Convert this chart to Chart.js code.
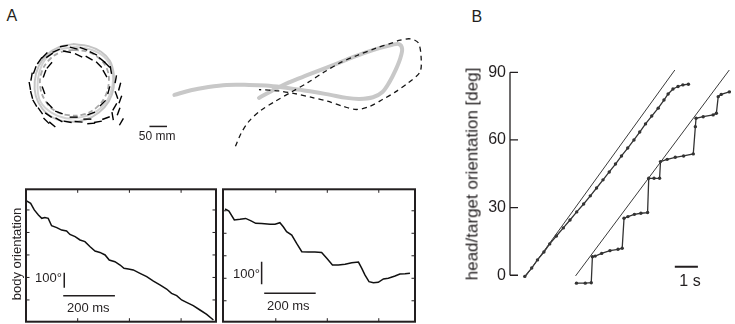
<!DOCTYPE html>
<html><head><meta charset="utf-8">
<script src="https://cdn.jsdelivr.net/npm/chart.js@4.4.1/dist/chart.umd.min.js"></script>
<style>
html,body{margin:0;padding:0;background:#fff;width:735px;height:324px;overflow:hidden;font-family:"Liberation Sans",Arial,Helvetica,sans-serif;color:#231f20}
canvas{position:absolute;display:block}
.t{position:absolute;white-space:nowrap;line-height:1}
</style></head><body>
<canvas id="cA" width="440" height="140" style="left:0;top:25px"></canvas>
<canvas id="cP1" width="204" height="144" style="left:16px;top:180px"></canvas>
<canvas id="cP2" width="198" height="144" style="left:220px;top:180px"></canvas>
<canvas id="cB" width="295" height="274" style="left:440px;top:40px"></canvas>

<div class="t" style="left:6.5px;top:8.2px;font-size:16px">A</div>
<div class="t" style="left:471.5px;top:9.2px;font-size:16px">B</div>
<div class="t" style="left:138.8px;top:129.8px;font-size:12px">50 mm</div>
<div class="t" style="left:15.5px;top:254px;font-size:13px;transform:translate(-50%,-50%) rotate(-90deg)">body orientation</div>
<div class="t" style="right:673px;top:270.7px;font-size:13px">100°</div>
<div class="t" style="left:88.3px;top:300.7px;font-size:13px;transform:translateX(-50%)">200 ms</div>
<div class="t" style="right:475px;top:267.3px;font-size:13px">100°</div>
<div class="t" style="left:288.3px;top:299px;font-size:13px;transform:translateX(-50%)">200 ms</div>
<div class="t" style="left:690px;top:273.2px;font-size:16px;transform:translateX(-50%)">1 s</div>
<div class="t" style="left:472px;top:173.5px;font-size:17px;transform:translate(-50%,-50%) rotate(-90deg)">head/target orientation [deg]</div>

<script>
// ---------- Panel A top: trajectories (mm) ----------
const loop1X = [136,181,217,242,253,253,239,211,172,128,83,50,31,28,39,64,97,136];
const loop1Y = [334,328,311,284,245,203,161,128,106,100,111,139,178,222,267,303,325,334];
const loop2X = [139,178,211,234,239,228,203,167,125,86,58,44,47,67,100,139];
const loop2Y = [317,311,292,259,217,175,142,122,120,133,164,203,247,284,309,317];
const loop3X = [145,189,225,247,250,236,206,161,117,75,44,36,42,61,97,145];
const loop3Y = [325,317,297,261,211,167,133,114,111,128,161,206,253,292,317,325];
const dashX = [111,139,167,195,220,234,120,153,183,89,70,211,228,245,259,270,261,272,256,267,250,275,231,208,189,178,153,122,97,78,61,67,44,28,19,14,19,28,42,56,70,56,53,70,97,139,189,222,239];
const dashY = [328,322,320,306,286,272,311,300,292,314,300,272,245,256,228,206,181,167,145,131,117,100,111,100,95,108,100,100,106,92,103,120,133,156,181,208,236,256,284,300,270,245,195,150,128,114,125,156,195];
const dashAngle = [-10,15,20,25,40,45,10,25,30,-25,-35,45,60,80,-80,-75,70,-70,-60,-70,80,-60,-20,-10,-5,0,5,10,30,40,45,35,55,60,75,80,-80,-70,-55,-45,-50,-70,70,45,20,0,-20,-45,-75];
const grayPathX = [426,473,519,575,639,686,732,778,825,871,917,954,992,1019,1038,1056,1070,1075,1066,1047,1010,964,917,862,806,751,714,667];
const grayPathY = [181,195,204,211,211,209,204,197,190,181,172,169,174,190,218,255,292,320,334,332,322,306,287,264,241,218,199,172];
const blackPathX = [600,616,639,672,714,760,806,853,899,945,1001,1047,1066,1098,1121,1129,1126,1093,1056,1019,982,945,908,862,815,769,723,667];
const blackPathY = [26,65,102,134,162,190,218,250,278,299,322,338,345,350,338,297,250,218,190,167,146,137,146,162,174,185,193,197];
const scaleBarAX = [355,405]; // 50 mm
const scaleBarAY = [86,86];

// ---------- Panel A bottom: body orientation ----------
const body1TimeMs = [2,18,32,48,61,73,86,99,119,138,157,170,190,209,228,248,267,286,306,322,344,364,379,396,415,441,467,493,518,544,563,583,602,621,647,673,699,725];
const body1Deg = [810,794,750,716,694,699,694,645,632,616,610,587,572,550,539,505,476,467,450,416,405,383,361,356,350,327,305,276,250,223,194,179,150,134,112,83,54,16];
const body1TicksX = [200,400,600];
const body1TicksY = [150,300,450,600,750];
const body1BarH = {x:[144,344], y:[178,178]};   // 200 ms
const body1BarV = {x:[148,148], y:[232,332]};   // 100 deg

const body2TimeMs = [3,18,39,61,83,104,122,145,178,197,216,229,242,262,281,301,326,352,378,398,420,443,469,495,521,534,546,562,579,598,618,637,663,682,702,721];
const body2Deg = [508,499,459,462,466,455,444,443,440,440,447,429,407,392,355,318,317,317,315,289,259,259,262,269,272,244,215,185,180,182,197,200,210,219,220,222];
const body2TicksX = [200,400,600];
const body2TicksY = [100,200,300,400,500];
const body2BarH = {x:[155,355], y:[133,133]};
const body2BarV = {x:[145,145], y:[173,273]};

// ---------- Panel B ----------
const bTicks = [0,30,60,90];
const target1TimeS = [0.64,7.14];
const target1Deg = [-1,91];
const target2TimeS = [2.84,9.5];
const target2Deg = [-0.3,91];
const head1TimeS = [0.64,0.94,1.19,1.47,1.72,2.01,2.31,2.60,2.89,3.19,3.48,3.75,4.03,4.30,4.57,4.83,5.10,5.37,5.62,5.87,6.14,6.42,6.67,6.85,7.06,7.28,7.49,7.73];
const head1Deg = [-0.5,3.2,6.8,10.3,13.9,17.4,21.0,24.5,28.1,31.6,35.2,38.7,42.3,45.8,49.3,52.9,56.4,60.0,63.5,67.1,70.6,74.1,77.7,80.4,82.6,83.7,84.4,84.7];
const head2TimeS = [2.88,3.26,3.52,3.57,3.69,3.97,4.33,4.68,4.86,4.94,5.11,5.39,5.67,5.96,6.01,6.24,6.48,6.52,6.81,7.16,7.52,7.94,8.03,8.06,8.37,8.80,8.94,9.02,9.15,9.50,9.72];
const head2Deg = [-3.5,-3.5,-3.3,8.2,8.5,9.7,10.9,11.5,12.0,25.3,26.0,27.0,27.5,27.8,43.0,43.0,43.0,50.4,51.4,52.3,52.9,53.8,65.9,69.6,70.3,71.1,71.8,79.2,80.2,81.3,81.9];
const scaleBarBX = [7.14,8.14]; // 1 s
const scaleBarBY = [3.8,3.8];

// ---------- setup ----------
const FONT = '"Liberation Sans", Arial, Helvetica, sans-serif';
const INK = '#231f20';
Chart.defaults.font.family = FONT;
Chart.defaults.color = INK;
Chart.defaults.animation = false;
Chart.defaults.plugins.legend.display = false;
Chart.defaults.plugins.tooltip.enabled = false;

function pts(xs, ys){ return xs.map((x,i)=>({x:x, y:ys[i]})); }

// Panel A top
new Chart(document.getElementById('cA'), {
  type:'scatter',
  data:{datasets:[
    {data:pts(dashX,dashY), showLine:false, pointStyle:'line', pointRadius:4, pointRotation:dashAngle,
     borderColor:'#000', pointBorderColor:'#000', pointBorderWidth:1.4, order:0, clip:false},
    {data:pts(blackPathX,blackPathY), showLine:true, borderColor:'#151515', borderWidth:1.3, borderDash:[5,4],
     pointRadius:0, tension:0.3, order:1, clip:false},
    {data:pts(scaleBarAX,scaleBarAY), showLine:true, borderColor:INK, borderWidth:1.5, pointRadius:0, order:1, clip:false},
    {data:pts(grayPathX,grayPathY), showLine:true, borderColor:'#c8c8c8', borderWidth:4, pointRadius:0,
     tension:0.35, order:2, borderCapStyle:'round', borderJoinStyle:'round', clip:false},
    {data:pts(loop1X,loop1Y), showLine:true, borderColor:'#c4c4c4', borderWidth:2, pointRadius:0, tension:0.4, order:3, clip:false},
    {data:pts(loop2X,loop2Y), showLine:true, borderColor:'#a8a8a8', borderWidth:1.8, borderDash:[5,3], pointRadius:0, tension:0.4, order:3, clip:false},
    {data:pts(loop3X,loop3Y), showLine:true, borderColor:'#d2d2d2', borderWidth:2, pointRadius:0, tension:0.4, order:4, clip:false}
  ]},
  options:{responsive:false, layout:{padding:0},
    scales:{x:{type:'linear', display:false, min:-55.6, max:1167.6},
            y:{type:'linear', display:false, min:-13.9, max:375.3}}}
});

// Box plugin for bottom panels
function boxPlugin(xt, yt){
  return {id:'box', afterDraw(chart){
    const {ctx, chartArea:a, scales:{x, y}} = chart;
    ctx.save();
    ctx.strokeStyle = INK; ctx.lineWidth = 1;
    ctx.beginPath();
    xt.forEach(v=>{const p=x.getPixelForValue(v); ctx.moveTo(p,a.top); ctx.lineTo(p,a.top+3.5); ctx.moveTo(p,a.bottom); ctx.lineTo(p,a.bottom-3.5);});
    yt.forEach(v=>{const p=y.getPixelForValue(v); ctx.moveTo(a.left,p); ctx.lineTo(a.left+3.5,p); ctx.moveTo(a.right,p); ctx.lineTo(a.right-3.5,p);});
    ctx.stroke();
    ctx.lineWidth = 2;
    ctx.strokeRect(a.left, a.top, a.right-a.left, a.bottom-a.top);
    ctx.restore();
  }};
}

function bodyPanel(id, tx, dy, barH, barV, xt, yt, xr, yr, pad){
  new Chart(document.getElementById(id), {
    type:'scatter',
    data:{datasets:[
      {data:pts(tx,dy), showLine:true, borderColor:'#111', borderWidth:1.5, pointRadius:0},
      {data:pts(barH.x,barH.y), showLine:true, borderColor:INK, borderWidth:1.5, pointRadius:0},
      {data:pts(barV.x,barV.y), showLine:true, borderColor:INK, borderWidth:1.5, pointRadius:0}
    ]},
    options:{responsive:false, layout:{padding:pad},
      scales:{x:{type:'linear', display:false, min:xr[0], max:xr[1]},
              y:{type:'linear', display:false, min:yr[0], max:yr[1]}}},
    plugins:[boxPlugin(xt, yt)]
  });
}
bodyPanel('cP1', body1TimeMs, body1Deg, body1BarH, body1BarV, body1TicksX, body1TicksY, [0,735], [5,887.7], {left:10,top:9.3,right:4,bottom:2.3});
bodyPanel('cP2', body2TimeMs, body2Deg, body2BarH, body2BarV, body2TicksX, body2TicksY, [-5,740.6], [7,595.4], {left:3,top:9.3,right:3,bottom:2.3});

// Panel B
const spinePlugin = {id:'spine', afterDraw(chart){
  const {ctx, chartArea:a, scales:{y}} = chart;
  const x0 = a.left;
  ctx.save();
  ctx.strokeStyle = INK; ctx.lineWidth = 1.3;
  ctx.beginPath();
  ctx.moveTo(x0, y.getPixelForValue(bTicks[0]));
  ctx.lineTo(x0, y.getPixelForValue(bTicks[bTicks.length-1]));
  bTicks.forEach(v=>{const p=y.getPixelForValue(v); ctx.moveTo(x0,p); ctx.lineTo(x0+8,p);});
  ctx.stroke();
  ctx.restore();
}};

new Chart(document.getElementById('cB'), {
  type:'scatter',
  data:{datasets:[
    {data:pts(target1TimeS,target1Deg), showLine:true, borderColor:'#3a3a3a', borderWidth:1, pointRadius:0},
    {data:pts(target2TimeS,target2Deg), showLine:true, borderColor:'#3a3a3a', borderWidth:1, pointRadius:0},
    {data:pts(head1TimeS,head1Deg), showLine:true, borderColor:'#333', borderWidth:1.3, pointRadius:1.7, pointBackgroundColor:'#333', pointBorderWidth:0},
    {data:pts(head2TimeS,head2Deg), showLine:true, borderColor:'#333', borderWidth:1.3, pointRadius:1.7, pointBackgroundColor:'#333', pointBorderWidth:0},
    {data:pts(scaleBarBX,scaleBarBY), showLine:true, borderColor:INK, borderWidth:2, pointRadius:0}
  ]},
  options:{responsive:false, layout:{padding:{top:21,bottom:20.7,left:0,right:0}},
    scales:{
      x:{type:'linear', display:false, min:0, max:9.574},
      y:{type:'linear', min:-8, max:95,
         afterFit(s){ s.width = 70; },
         afterBuildTicks(s){ s.ticks = bTicks.map(v=>({value:v})); },
         grid:{display:false, drawTicks:false}, border:{display:false},
         ticks:{font:{size:16}, padding:4, color:INK},
         title:{display:false}}
    }},
  plugins:[spinePlugin]
});
</script>
</body></html>
